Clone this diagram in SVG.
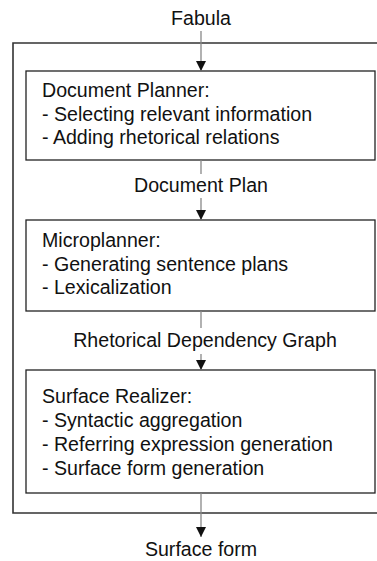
<svg xmlns="http://www.w3.org/2000/svg" width="377" height="561" viewBox="0 0 377 561">
  <style>
    text { font-family: "Liberation Sans", Arial, sans-serif; font-size: 19.6px; fill: #111; }
    .label { text-anchor: middle; }
    .box { fill: #fff; stroke: #222; stroke-width: 1.3; }
    .frame { fill: none; stroke: #333; stroke-width: 1.6; }
    .edge { stroke: #888; stroke-width: 1.3; fill: none; }
  </style>
  <defs>
    <marker id="arrow" viewBox="0 0 10 10" refX="10" refY="5" markerWidth="10" markerHeight="10" markerUnits="userSpaceOnUse" orient="auto">
      <path d="M0,0 L10,5 L0,10 Z" fill="#111"/>
    </marker>
  </defs>

  <!-- enclosing generator frame, open to the right -->
  <path class="frame" d="M380,43 H13 V513 H380"/>

  <!-- pipeline stages -->
  <g id="document-planner">
    <rect class="box" x="26" y="71" width="349" height="89"/>
    <text x="42" y="97">Document Planner:</text>
    <text x="42" y="120.5">- Selecting relevant information</text>
    <text x="42" y="144">- Adding rhetorical relations</text>
  </g>

  <g id="microplanner">
    <rect class="box" x="26" y="220" width="349" height="91"/>
    <text x="42" y="247">Microplanner:</text>
    <text x="42" y="270.5">- Generating sentence plans</text>
    <text x="42" y="294">- Lexicalization</text>
  </g>

  <g id="surface-realizer">
    <rect class="box" x="26" y="370" width="349" height="123"/>
    <text x="42" y="403">Surface Realizer:</text>
    <text x="42" y="427">- Syntactic aggregation</text>
    <text x="42" y="451">- Referring expression generation</text>
    <text x="42" y="475">- Surface form generation</text>
  </g>

  <!-- data passed between stages -->
  <g id="connectors">
    <line class="edge" x1="201" y1="31" x2="201" y2="71" marker-end="url(#arrow)"/>
    <line class="edge" x1="201" y1="160" x2="201" y2="174"/>
    <line class="edge" x1="201" y1="198" x2="201" y2="220" marker-end="url(#arrow)"/>
    <line class="edge" x1="201" y1="311" x2="201" y2="328"/>
    <line class="edge" x1="201" y1="354" x2="201" y2="370" marker-end="url(#arrow)"/>
    <line class="edge" x1="201" y1="493" x2="201" y2="537" marker-end="url(#arrow)"/>
  </g>

  <g id="labels">
    <text class="label" x="201" y="25">Fabula</text>
    <text class="label" x="201" y="192">Document Plan</text>
    <text class="label" x="205" y="347">Rhetorical Dependency Graph</text>
    <text class="label" x="201" y="556">Surface form</text>
  </g>
</svg>
